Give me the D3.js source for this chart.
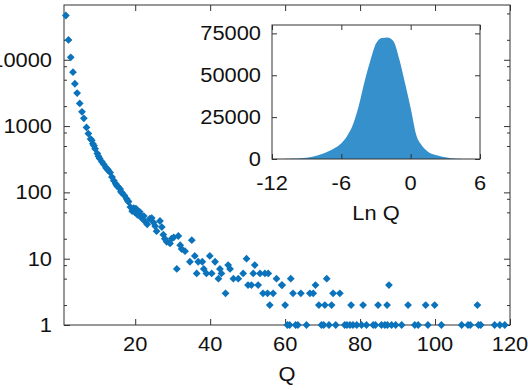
<!DOCTYPE html>
<html>
<head>
<meta charset="utf-8">
<script src="https://cdn.jsdelivr.net/npm/d3@7"></script>
<style>
  body { margin: 0; background: #fff; }
  svg { display: block; font-family: "Liberation Sans", Arial, sans-serif; }
</style>
</head>
<body>
<div id="chart"></div>
<script>
// main scatter: number of events for each Q (log scale)
var qValues = [1.5, 2.2, 2.8, 3.4, 3.9, 4.5, 5.2, 5.8, 6.3, 7.0, 7.5, 8.1, 8.7, 9.3, 9.9, 10.5, 11.1, 11.6, 12.2, 12.8,
  13.3, 13.8, 14.3, 14.8, 15.4, 16.0, 16.5, 17.1, 17.7, 18.2, 18.7, 19.2, 19.6, 20.2, 20.6, 21.2, 21.7, 22.3, 22.7, 23.2,
  23.9, 24.4, 24.9, 25.3, 25.7, 26.6, 27.1, 27.5, 27.9, 28.4, 29.3, 29.7, 30.3, 31.1, 31.5, 32.0, 32.4, 33.3, 34.6, 35.1,
  35.9, 36.4, 36.8, 37.9, 38.3, 39.0, 39.9, 40.4, 41.3, 42.2, 42.6, 43.0, 44.1, 44.8, 45.3, 46.2, 47.5, 48.8, 49.7, 50.1,
  51.0, 51.5, 51.9, 52.8, 53.3, 54.1, 54.6, 55.3, 55.5, 55.9, 56.8, 57.7, 59.1, 60.0,
  8.4, 9.0, 10.2, 12.5, 15.1, 16.2, 18.0, 19.9, 20.9, 22.0,
  60.6, 61.2, 62.8, 63.4, 65.7, 69.7, 70.3, 71.7, 73.5, 75.9, 76.5, 77.3, 78.1, 79.1, 80.4, 81.7, 83.5, 84.1, 85.7, 86.6,
  87.3, 88.4, 89.5, 91.1, 94.6, 95.5, 98.1, 101.7, 107.1, 108.8, 109.4, 111.6, 112.2, 115.9, 117.3, 118.6,
  69.0, 70.6, 72.4, 77.6, 80.8, 84.8, 87.2, 92.8, 97.5, 99.9, 111.3,
  62.1, 64.2, 66.6, 67.5, 72.8, 74.6,
  59.2, 68.1, 87.7,
  61.5, 71.1];
var qCounts = [46500, 19900, 10900, 6500, 4350, 3150, 2200, 1640, 1310, 955, 770, 640, 540, 455, 385, 325, 290, 265, 235, 215,
  200, 170, 150, 135, 122, 112, 98, 90, 80, 72, 60, 52, 58, 57, 46, 51, 41, 44, 36, 33,
  40, 41, 35, 31, 26, 37, 30, 23, 20, 18, 17, 20, 21, 7, 22, 16, 14, 13, 9, 19,
  11, 6, 9, 9, 7, 6, 11, 6, 9, 5, 7, 6, 3, 8, 7, 5, 5, 6, 10, 4,
  4, 6, 8, 4, 6, 3, 6, 3, 6, 2, 3, 5, 4, 2,
  610, 505, 350, 228, 126, 102, 75, 50, 48, 43,
  1, 1, 1, 1, 1, 1, 1, 1, 1, 1, 1, 1, 1, 1, 1, 1, 1, 1, 1, 1,
  1, 1, 1, 1, 1, 1, 1, 1, 1, 1, 1, 1, 1, 1, 1, 1,
  2, 2, 2, 2, 2, 2, 2, 2, 2, 2, 2,
  3, 3, 3, 3, 3, 3,
  4, 4, 4,
  5, 5];

// inset: distribution of Ln Q
var lnQBins = [-12, -11.5, -11, -10.5, -10, -9.5, -9, -8.5, -8, -7.5, -7, -6.5, -6, -5.5, -5, -4.5, -4, -3.5, -3, -2.5,
  -2, -1.5, -1, -0.5, 0, 0.5, 1, 1.5, 2, 2.5, 3, 3.5, 4, 4.5, 5, 5.5, 6];
var lnQCounts = [0, 0, 50, 120, 250, 450, 800, 1400, 2300, 3400, 4900, 6800, 9400, 13800, 20500, 31500, 46000, 58500, 69000, 72300,
  72600, 70500, 60000, 45600, 30500, 14000, 7800, 4400, 2700, 1800, 1000, 450, 100, 10, 0, 0, 0];

var xTicks = [20, 40, 60, 80, 100, 120];
var yTicks = [1, 10, 100, 1000, 10000];
var yMinorTicks = [2, 5, 8, 20, 50, 80, 200, 500, 800, 2000, 5000, 8000, 20000, 50000];
var insetXTicks = [-12, -6, 0, 6];
var insetYTicks = [0, 25000, 50000, 75000];

var svgWidth = 528;
var svgHeight = 390;
var fontSize = 19.5;
var stretch = 1.12;
var markColor = "#0b73bb";
var fillColor = "#3590cc";
var lineColor = "#333";

var svg = d3.select("#chart")
  .append("svg")
  .attr("width", svgWidth)
  .attr("height", svgHeight);

// main plot frame
var plot = { left: 64, right: 510, top: 5, bottom: 325 };

var xScale = d3.scaleLinear()
  .domain([1, 120])
  .range([plot.left, plot.right]);

var yScale = d3.scaleLog()
  .domain([1, 67000])
  .range([plot.bottom, plot.top]);

function tickAxis(axis, size, values) {
  return axis.tickValues(values).tickSizeInner(size).tickSizeOuter(0).tickFormat("");
}

function drawAxes(g) {
  g.selectAll(".domain").remove();
  g.selectAll("line").attr("stroke", lineColor).attr("stroke-width", 1);
}

// ticks on all four sides, pointing inward
svg.append("g").attr("transform", `translate(0, ${plot.bottom})`)
  .call(tickAxis(d3.axisBottom(xScale), -6, xTicks)).call(drawAxes);
svg.append("g").attr("transform", `translate(0, ${plot.top})`)
  .call(tickAxis(d3.axisTop(xScale), -6, xTicks)).call(drawAxes);
svg.append("g").attr("transform", `translate(${plot.left}, 0)`)
  .call(tickAxis(d3.axisLeft(yScale), -6, yTicks)).call(drawAxes);
svg.append("g").attr("transform", `translate(${plot.left}, 0)`)
  .call(tickAxis(d3.axisLeft(yScale), -3, yMinorTicks)).call(drawAxes);
svg.append("g").attr("transform", `translate(${plot.right}, 0)`)
  .call(tickAxis(d3.axisRight(yScale), -6, yTicks)).call(drawAxes);
svg.append("g").attr("transform", `translate(${plot.right}, 0)`)
  .call(tickAxis(d3.axisRight(yScale), -3, yMinorTicks)).call(drawAxes);

svg.append("rect")
  .attr("x", plot.left)
  .attr("y", plot.top)
  .attr("width", plot.right - plot.left)
  .attr("height", plot.bottom - plot.top)
  .attr("fill", "none")
  .attr("stroke", lineColor)
  .attr("stroke-width", 1);

// diamond markers
var points = qValues.map((q, i) => ({ q: q, n: qCounts[i] }));
var diamond = "M0,-3.9L3.9,0L0,3.9L-3.9,0Z";

svg.append("g")
  .selectAll("path")
  .data(points)
  .enter()
  .append("path")
  .attr("d", diamond)
  .attr("transform", d => `translate(${xScale(d.q)}, ${yScale(d.n)})`)
  .attr("fill", markColor);

// text helper (the reference font is a little wider than Liberation Sans)
function label(x, y, str, anchor) {
  svg.append("text")
    .attr("transform", `translate(${x}, ${y}) scale(${stretch}, 1)`)
    .attr("text-anchor", anchor)
    .attr("font-size", fontSize)
    .attr("fill", "#111")
    .text(str);
}

xTicks.forEach(t => label(xScale(t), 351, t, "middle"));
yTicks.forEach(t => label(52, yScale(t) + 7, t, "end"));
label((plot.left + plot.right) / 2, 381, "Q", "middle");

// inset
var inset = { left: 272, right: 480, top: 25, bottom: 159 };

var ixScale = d3.scaleLinear()
  .domain([-12, 6])
  .range([inset.left, inset.right]);

var iyScale = d3.scaleLinear()
  .domain([0, 80000])
  .range([inset.bottom, inset.top]);

svg.append("rect")
  .attr("x", inset.left)
  .attr("y", inset.top)
  .attr("width", inset.right - inset.left)
  .attr("height", inset.bottom - inset.top)
  .attr("fill", "#fff");

var hist = lnQBins.map((b, i) => ({ b: b, n: lnQCounts[i] }));

var area = d3.area()
  .x(d => ixScale(d.b))
  .y0(iyScale(0))
  .y1(d => iyScale(d.n))
  .curve(d3.curveMonotoneX);

svg.append("path")
  .datum(hist)
  .attr("d", area)
  .attr("fill", fillColor);

svg.append("g").attr("transform", `translate(0, ${inset.bottom})`)
  .call(tickAxis(d3.axisBottom(ixScale), -5, insetXTicks)).call(drawAxes);
svg.append("g").attr("transform", `translate(0, ${inset.top})`)
  .call(tickAxis(d3.axisTop(ixScale), -5, insetXTicks)).call(drawAxes);
svg.append("g").attr("transform", `translate(${inset.left}, 0)`)
  .call(tickAxis(d3.axisLeft(iyScale), -5, insetYTicks)).call(drawAxes);
svg.append("g").attr("transform", `translate(${inset.right}, 0)`)
  .call(tickAxis(d3.axisRight(iyScale), -5, insetYTicks)).call(drawAxes);

svg.append("rect")
  .attr("x", inset.left)
  .attr("y", inset.top)
  .attr("width", inset.right - inset.left)
  .attr("height", inset.bottom - inset.top)
  .attr("fill", "none")
  .attr("stroke", lineColor)
  .attr("stroke-width", 1);

insetXTicks.forEach(t => label(ixScale(t), 189.5, t, "middle"));
insetYTicks.forEach(t => label(261, iyScale(t) + 7, t, "end"));
label((inset.left + inset.right) / 2, 220, "Ln Q", "middle");
</script>
</body>
</html>
